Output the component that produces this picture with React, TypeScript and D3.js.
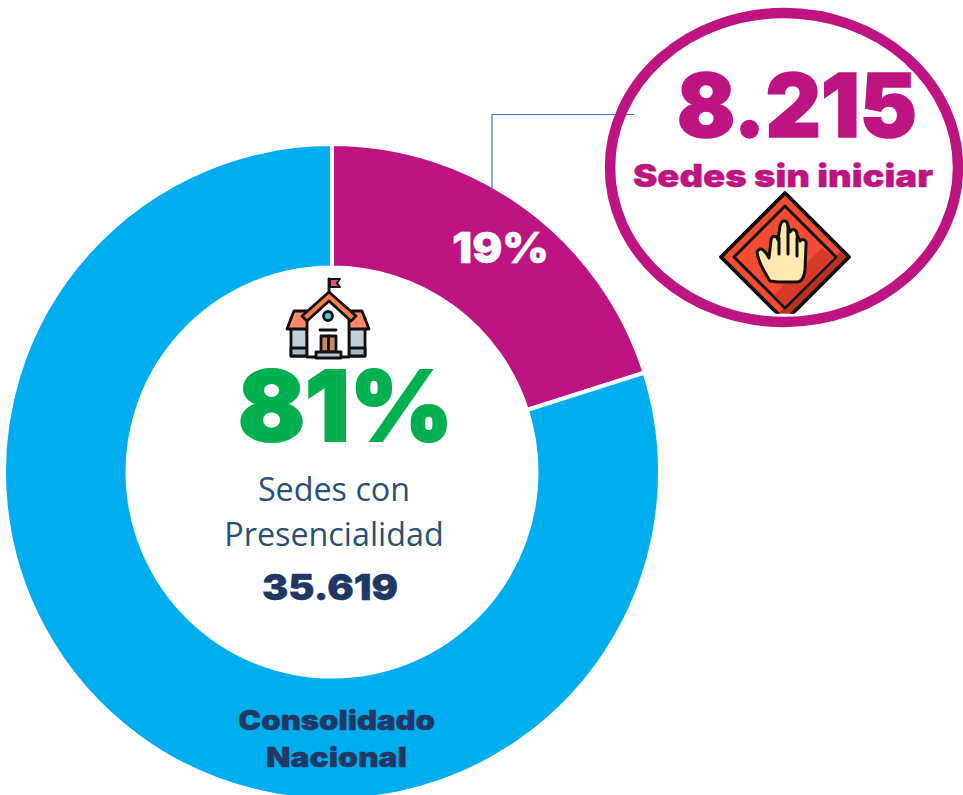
import React from "react";
import * as d3 from "d3";

const categories = ["Sedes sin iniciar", "Sedes con Presencialidad"];
const sliceShares = [20.1, 79.9];
const sliceColors = ["#BE1481", "#00AEEF"];
const percentLabels = ["19%", "81%"];
const countLabels = ["8.215", "35.619"];
const titleLines = ["Consolidado", "Nacional"];
const centerLines = ["Sedes con", "Presencialidad"];

const heavy = "Inter, 'Noto Sans', sans-serif";
const light = "'Open Sans', 'Noto Sans', sans-serif";

function Heavy(p: { x: number; y: number; w: number; size: number; fill: string; children: string; bold?: number }) {
  return (
    <text
      x={p.x}
      y={p.y}
      textLength={p.w}
      lengthAdjust="spacingAndGlyphs"
      fontFamily={heavy}
      fontWeight={900}
      fontSize={p.size}
      fill={p.fill}
      stroke={p.fill}
      strokeWidth={p.bold ?? 0.4}
    >
      {p.children}
    </text>
  );
}

function School() {
  const k = "#111";
  return (
    <g transform="translate(286,278)" stroke={k} strokeWidth={2.8} strokeLinejoin="round" strokeLinecap="round">
      <path d="M43,1 V17" fill="none" />
      <path d="M44,1 H54 L51,5 L54,9 H44 Z" fill="#E8506A" strokeWidth={2} />
      <path d="M5,40 H21 V78 H5 Z" fill="#C3CFDB" />
      <path d="M63,40 H79 V78 H63 Z" fill="#C3CFDB" />
      <path d="M5,70 H21 V78 H5 Z M63,70 H79 V78 H63 Z" fill="#A9B9C7" />
      <path d="M1,51 L8,33 H24 V51 Z" fill="#FF8A65" />
      <path d="M83,51 L76,33 H60 V51 Z" fill="#FF8A65" />
      <path d="M21,79 V40 L43,20 L63,40 V79 Z" fill="#fff" />
      <path d="M16,38 L43,14 L70,38 L65,43 L43,23 L21,43 Z" fill="#FF7B4F" />
      <circle cx="42" cy="38" r="4.5" fill="#4FC3D9" />
      <path d="M34,52 H50" fill="none" />
      <path d="M35,58 H50 V74 H35 Z" fill="#C98A60" />
      <path d="M42.5,58 V74" fill="none" />
      <path d="M30,74 H55 V80 H30 Z" fill="#BBC8D4" />
    </g>
  );
}

function StopSign() {
  const k = "#111";
  return (
    <g>
      <clipPath id="stopClip"><rect x="700" y="180" width="170" height="133.5" /></clipPath>
      <g clipPath="url(#stopClip)">
        <path d="M785,193 L849,257 L785,321 L721,257 Z" fill="#F44B32" stroke={k} strokeWidth={3.4} strokeLinejoin="round" />
        <path d="M849,257 L785,321 L778,314 L842,250 Z" fill="#B83224" />
        <path d="M785,206 L836,257 L785,308 L734,257 Z" fill="#F44B32" stroke={k} strokeWidth={3} strokeLinejoin="round" />
        <path d="M834,258 L785,306 L774,295 L822,248 Z" fill="#D93A28" />
        <path d="M785,193 L849,257 L785,321 L721,257 Z" fill="none" stroke={k} strokeWidth={3.4} strokeLinejoin="round" />
        <path
          d="M770,281 C765,273 758,262 757,252 C760,246 765,250 769,258 L771,240 C772,235 777,235 778,240 L780,226 C782,219 787,219 788,226 L790,232 C792,228 797,229 797,235 L800,241 C803,238 807,240 806,245 L805,270 C804,277 801,282 797,282 H778 Z"
          fill="#FFE9AE"
          stroke={k}
          strokeWidth={3}
          strokeLinejoin="round"
        />
        <path d="M779,238 V254 M788,226 V254 M797,238 V256" stroke={k} strokeWidth={3} fill="none" strokeLinecap="round" />
      </g>
    </g>
  );
}

export default function App() {
  const cx = 332;
  const cy = 472;
  const pie = d3.pie<number>().sort(null)(sliceShares);
  const arc = d3.arc<d3.PieArcDatum<number>>().innerRadius(204.5).outerRadius(328);
  return (
    <svg width={963} height={795} style={{ position: "absolute", left: 0, top: 0, background: "#fff" }}>
      <g transform={`translate(${cx},${cy})`}>
        {pie.map((d, i) => (
          <path key={categories[i]} d={arc(d) ?? ""} fill={sliceColors[i]} stroke="#fff" strokeWidth={4} />
        ))}
      </g>
      <path d="M492,190 V114.5 H634" fill="none" stroke="#4472C4" strokeWidth={1.2} />
      <ellipse cx={784} cy={167.5} rx={174} ry={154.5} fill="none" stroke="#BE1481" strokeWidth={10.5} />
      <Heavy x={677} y={137} w={240} size={88} fill="#BE1481" bold={1.5}>{countLabels[0]}</Heavy>
      <Heavy x={633} y={187} w={300} size={31} fill="#BE1481">{categories[0]}</Heavy>
      <StopSign />
      <Heavy x={452} y={263} w={97} size={42} fill="#fff">{percentLabels[0]}</Heavy>
      <School />
      <Heavy x={238} y={441} w={215} size={98} fill="#00B050" bold={2}>{percentLabels[1]}</Heavy>
      <text x={334} y={501} textAnchor="middle" fontFamily={light} fontSize={32.3} fill="#2A5078">{centerLines[0]}</text>
      <text x={334} y={546} textAnchor="middle" fontFamily={light} fontSize={32.3} fill="#2A5078">{centerLines[1]}</text>
      <Heavy x={262} y={600} w={136} size={36} fill="#1F3864">{countLabels[1]}</Heavy>
      <Heavy x={238} y={730} w={197} size={27} fill="#1F3864">{titleLines[0]}</Heavy>
      <Heavy x={266} y={767} w={141} size={27} fill="#1F3864">{titleLines[1]}</Heavy>
    </svg>
  );
}
